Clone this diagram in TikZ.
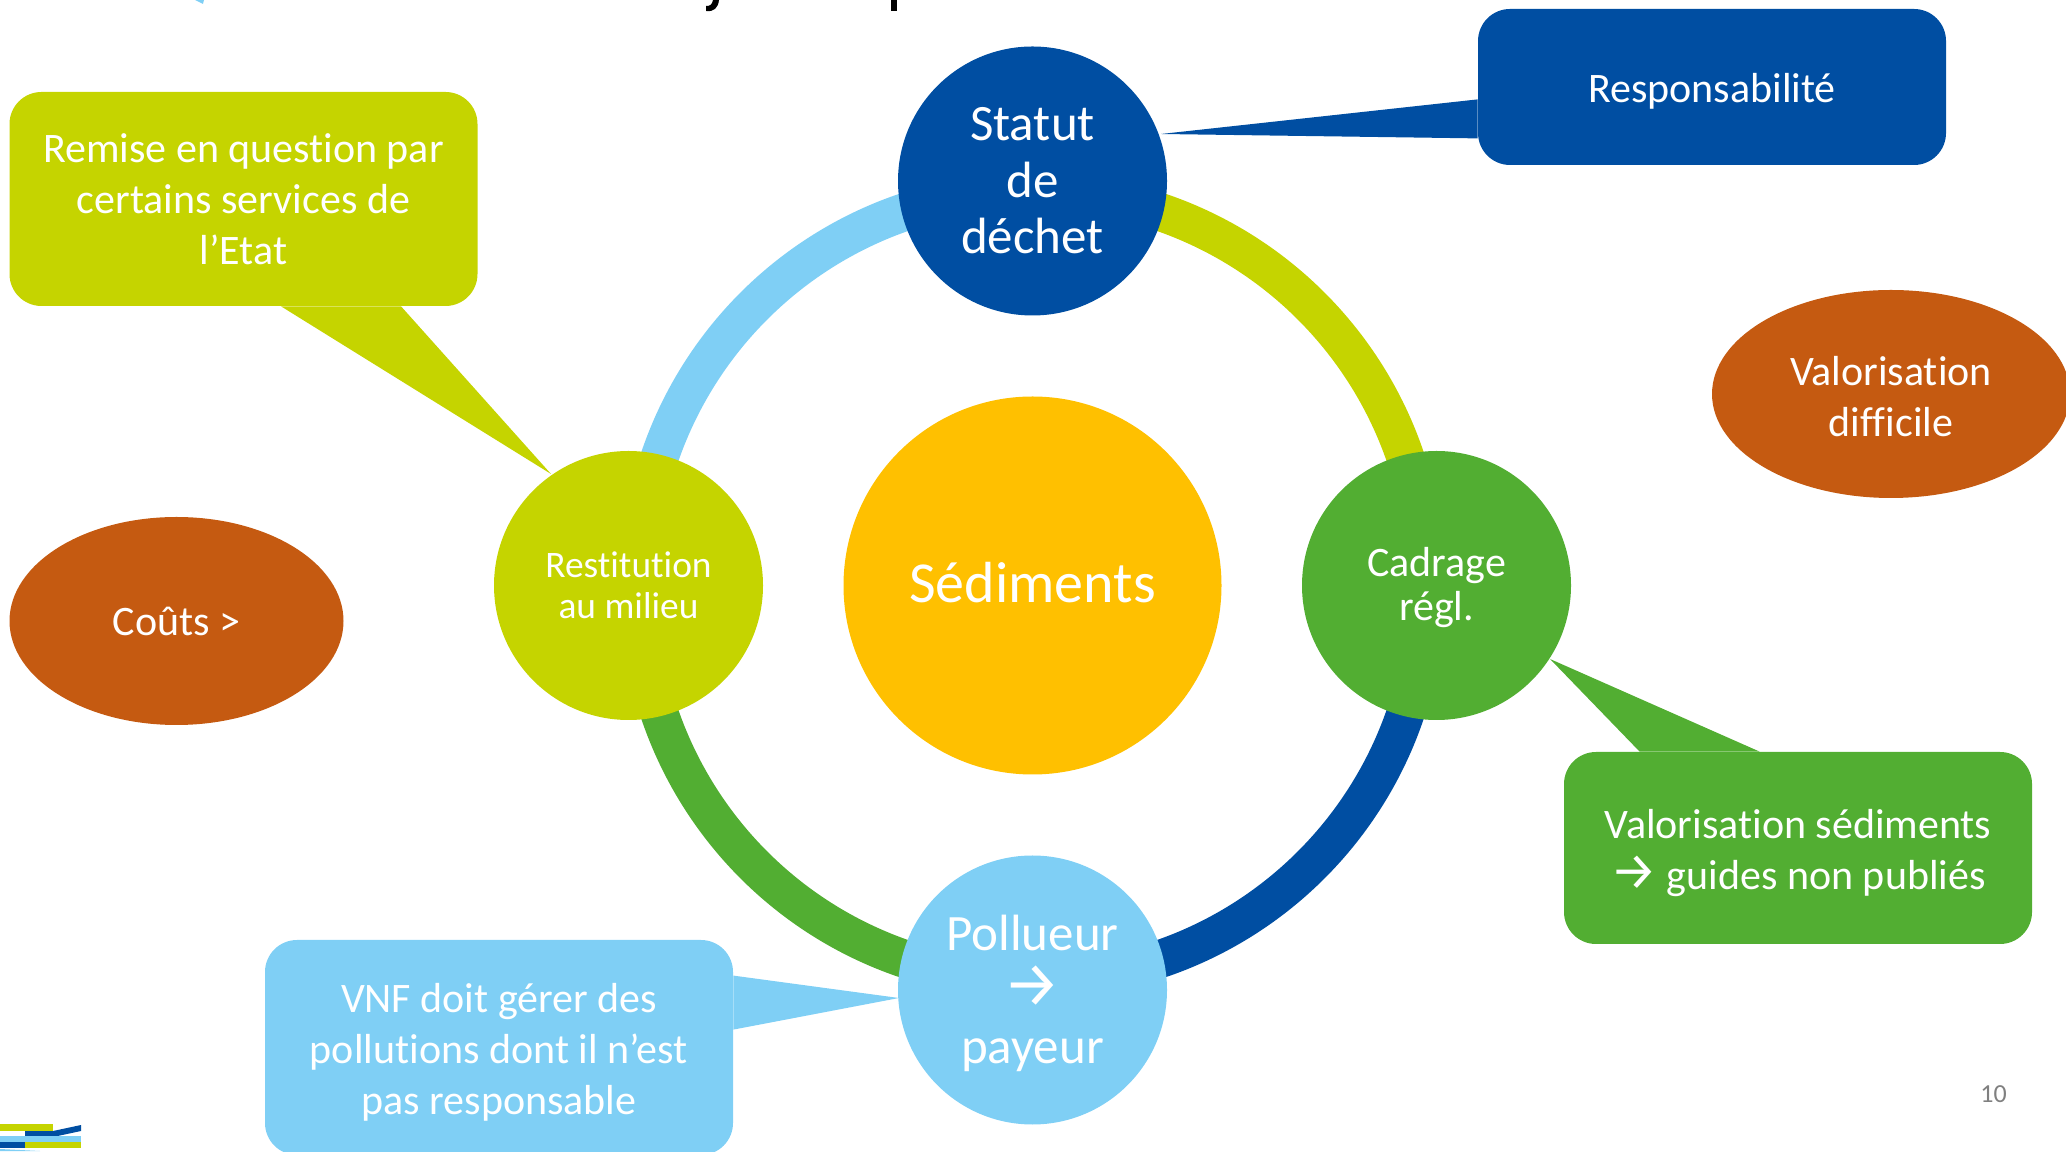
\documentclass[tikz,border=0pt]{standalone}
\usepackage{fontspec}
\setmainfont{Carlito}[Ligatures=CommonOff]
\newfontfamily\arrowfont{Fira Sans}[Scale=1.25]
\usepackage{tikz}
\usetikzlibrary{shapes.geometric,backgrounds}

\definecolor{navyblue}{HTML}{004EA2}
\definecolor{limegreen}{HTML}{C5D400}
\definecolor{leafgreen}{HTML}{52AE32}
\definecolor{skyblue}{HTML}{7FCFF5}
\definecolor{rust}{HTML}{C55A11}
\definecolor{amber}{HTML}{FFC000}

\tikzset{
	hub/.style={circle, inner sep=0pt, minimum size=134.5pt, text=white, align=center},
	ringarc/.style={line width=19pt},
	bubble/.style={rectangle, rounded corners=16pt, inner sep=0pt, minimum width=234pt, text=white, align=center, font=\fontsize{21}{25.5}\selectfont},
	blob/.style={ellipse, inner sep=0pt, minimum width=167pt, minimum height=104pt, fill=rust, text=white, align=center, font=\fontsize{21}{25.5}\selectfont},
}

\begin{document}
\begin{tikzpicture}[x=0.5pt,y=0.5pt]
\useasboundingbox (0,0) rectangle (2066,1151);

% centre and ring
\node[circle, inner sep=0pt, minimum size=189pt, fill=amber, text=white, font=\fontsize{29}{36}\selectfont] (sediments) at (1032.5,565.5) {\rule[-3pt]{0pt}{3pt}Sédiments};
\node[hub, fill=navyblue, font=\fontsize{25.5}{28.3}\selectfont] (statut) at (1032.5,970) {Statut\\de\\déchet};
\node[hub, fill=leafgreen, font=\fontsize{21}{22}\selectfont] (cadrage) at (1436.5,565.5) {\rule{0pt}{17pt}Cadrage\\régl.};
\node[hub, fill=skyblue, font=\fontsize{25.5}{28.3}\selectfont] (pollueur) at (1032.5,161) {\rule{0pt}{21pt}Pollueur\\{\arrowfont →}\\payeur};
\node[hub, fill=limegreen, font=\fontsize{18.7}{20.5}\selectfont] (restitution) at (628.5,565.5) {Restitution\\au milieu};

% callouts
\node[bubble, fill=navyblue, minimum height=78pt] (responsabilite) at (1712,1064) {\rule{0pt}{19pt}Responsabilité};
\node[bubble, fill=limegreen, minimum height=107pt] (remise) at (243.5,952) {Remise en question par\\certains services de\\l’Etat};
\node[bubble, fill=leafgreen, minimum height=96pt] (guides) at (1798,303) {\rule{0pt}{20pt}Valorisation sédiments\\{\arrowfont →} guides non publiés};
\node[bubble, fill=skyblue, minimum height=107.5pt] (vnf) at (499,103.5) {\rule{0pt}{19pt}VNF doit gérer des\\pollutions dont il n’est\\pas responsable};

% ellipses
\node[blob] (couts) at (176.5,530) {Coûts >};
\node[blob, minimum width=179pt] (difficile) at (1891,757) {\rule{0pt}{17pt}Valorisation\\difficile};

\coordinate (responsabilitetip) at (1161,1017);
\coordinate (remisetip) at (551,677);
\coordinate (guidestip) at (1550,492);
\coordinate (vnftip) at (899,153);

\begin{pgfonlayer}{background}
	\draw[ringarc, limegreen] ([yshift=-5pt]statut.center) to[out=0,in=90] ([xshift=-5pt]cadrage.center);
	\draw[ringarc, navyblue] ([xshift=-5pt]cadrage.center) to[out=-90,in=0] ([yshift=5pt]pollueur.center);
	\draw[ringarc, leafgreen] ([yshift=5pt]pollueur.center) to[out=180,in=-90] ([xshift=5pt]restitution.center);
	\draw[ringarc, skyblue] ([xshift=5pt]restitution.center) to[out=90,in=180] ([yshift=-5pt]statut.center);
	\fill[navyblue] ([yshift=33pt]responsabilite.south west) -- (responsabilitetip) -- ([yshift=13.5pt]responsabilite.south west) -- cycle;
	\fill[limegreen] ([xshift=136pt]remise.south west) -- (remisetip) -- ([xshift=196pt]remise.south west) -- cycle;
	\fill[leafgreen] ([xshift=38pt]guides.north west) -- (guidestip) -- ([xshift=98pt]guides.north west) -- cycle;
	\fill[skyblue] ([yshift=-18pt]vnf.north east) -- (vnftip) -- ([yshift=-45pt]vnf.north east) -- cycle;
\end{pgfonlayer}

% page number
\node[text=gray, font=\fontsize{13}{15}\selectfont] (pagenum) at (1993.5,57) {10};

% logo
\fill[limegreen] (0,20) rectangle (53,27);
\fill[navyblue] (25,14) rectangle (53,20);
\fill[navyblue] (53,14) -- (81,20) -- (81,26) -- (53,20) -- cycle;
\fill[skyblue] (0,9) rectangle (81,15);
\fill[navyblue] (0,3) rectangle (25,9);
\fill[limegreen] (25,3) rectangle (81,9);
\fill[skyblue] (0,0) -- (0,2) -- (40,0) -- cycle;

% cut off title
\fill[skyblue] (195,1151) -- (204,1151) -- (203,1147) -- cycle;
\fill (706,1140) .. controls (714,1139) and (718,1143) .. (719,1151) -- (713,1151) .. controls (712,1146) and (710,1145) .. (706,1145) -- cycle;
\fill (891,1151) rectangle (897,1140);
\end{tikzpicture}
\end{document}
